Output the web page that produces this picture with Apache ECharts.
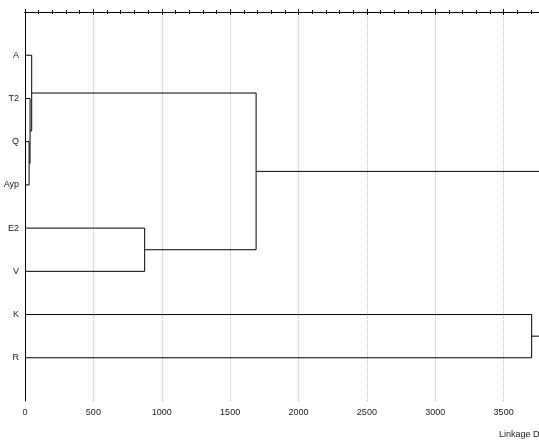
<!DOCTYPE html>
<html><head><meta charset="utf-8">
<script src="https://cdn.jsdelivr.net/npm/echarts@6/dist/echarts.min.js"></script>
<style>html,body{margin:0;padding:0;background:#fff}#c{width:539px;height:441px}</style>
</head><body><div id="c"></div>
<script>
// Leaves, top to bottom
var leafLabels = ['A', 'T2', 'Q', 'Ayp', 'E2', 'V', 'K', 'R'];
// Merges: [left cluster, right cluster] (0-7 leaves, 8+ previous merges)
var mergeLeft  = [2, 1, 0, 4, 10, 6, 12];
var mergeRight = [3, 8, 9, 5, 11, 7, 13];
// Linkage distance of each merge
var mergeHeight = [30, 37, 49, 875, 1690, 3705, 4300];
var xTicks = [0, 500, 1000, 1500, 2000, 2500, 3000, 3500, 4000];

var posY = [], posX = [];
leafLabels.forEach(function (l, i) { posY.push(i + 1); posX.push(0); });
var series = [];
mergeHeight.forEach(function (h, k) {
  var a = mergeLeft[k], b = mergeRight[k];
  series.push({
    type: 'line', symbol: 'none', silent: true, animation: false,
    lineStyle: { color: '#000', width: 1 },
    data: [[posX[a], posY[a]], [h, posY[a]], [h, posY[b]], [posX[b], posY[b]]]
  });
  posY.push((posY[a] + posY[b]) / 2);
  posX.push(h);
});

var chart = echarts.init(document.getElementById('c'));
var common = {
  type: 'value', min: xTicks[0], max: xTicks[xTicks.length - 1], interval: 500,
  axisLine: { show: true, lineStyle: { color: '#000', width: 1 } },
  axisTick: { show: true, inside: true, length: 3, lineStyle: { color: '#000' } },
  minorTick: { show: true, splitNumber: 5, length: 2, lineStyle: { color: '#000' } }
};
chart.setOption({
  animation: false,
  grid: { left: 25, top: 12, bottom: 40, width: 547, containLabel: false, outerBoundsMode: 'none' },
  xAxis: [
    Object.assign({}, common, {
      position: 'bottom',
      axisLabel: { show: true, color: '#222', fontSize: 9, fontFamily: 'Liberation Sans, Arial', margin: 7,
        formatter: function (v) { return String(v); } },
      splitLine: { show: true, lineStyle: { color: '#c0c0c0', type: [1, 1], width: 1 } }
    }),
    Object.assign({}, common, {
      position: 'top',
      axisLabel: { show: false },
      splitLine: { show: false }
    })
  ],
  yAxis: {
    type: 'value', min: 0, max: leafLabels.length + 1, interval: 1, inverse: true,
    axisLine: { show: true, lineStyle: { color: '#000', width: 1 } },
    axisTick: { show: false },
    splitLine: { show: false },
    axisLabel: {
      color: '#222', fontSize: 9, fontFamily: 'Liberation Sans, Arial', margin: 6,
      formatter: function (v) { return leafLabels[v - 1] || ''; }
    }
  },
  graphic: [{
    type: 'text', left: 499, top: 430,
    style: { text: 'Linkage Distance', fontSize: 9, fontFamily: 'Liberation Sans, Arial', fill: '#222' }
  }],
  series: series
});
</script></body></html>
